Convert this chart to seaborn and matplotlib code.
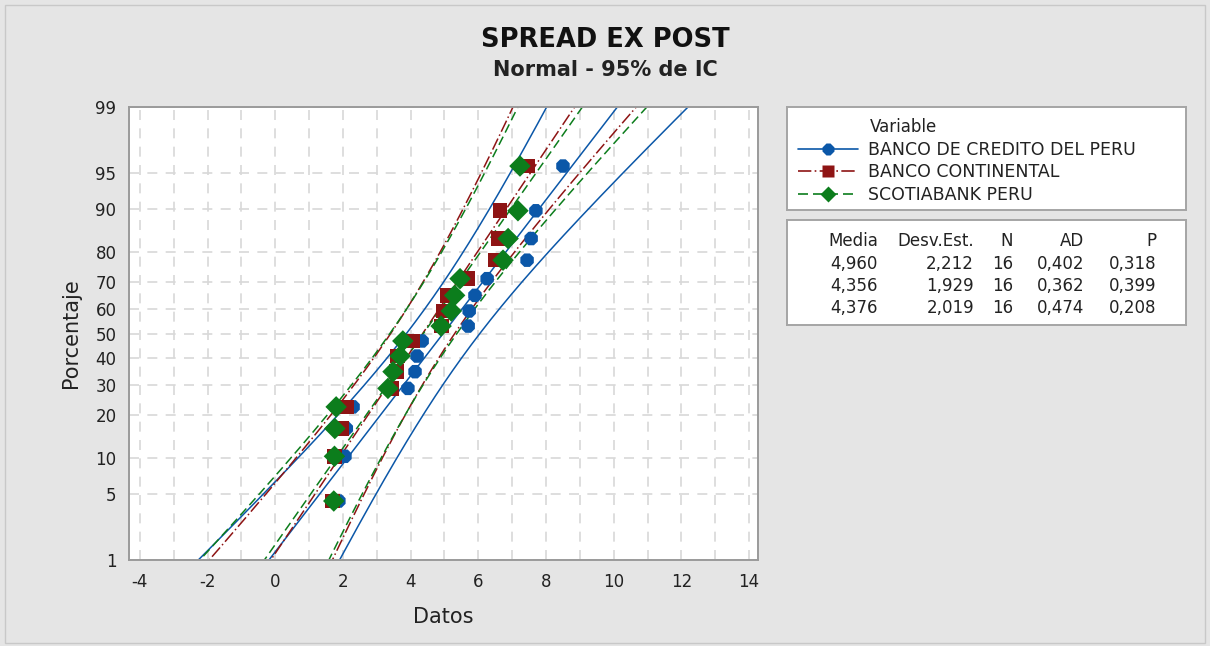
import numpy as np
import pandas as pd
import seaborn as sns
import matplotlib as mpl
from matplotlib import pyplot as plt
from matplotlib.lines import Line2D
from statistics import NormalDist

# data (sorted values, 16 per bank)
bcp = [1.88, 2.06, 2.10, 2.30, 3.92, 4.13, 4.19, 4.34, 5.70, 5.73, 5.90, 6.26, 7.44, 7.56, 7.70, 8.50]
bbva = [1.70, 1.75, 1.95, 2.10, 3.45, 3.58, 3.62, 4.07, 4.92, 4.95, 5.07, 5.70, 6.49, 6.60, 6.64, 7.47]
scotia = [1.73, 1.75, 1.76, 1.80, 3.33, 3.48, 3.69, 3.77, 4.90, 5.20, 5.30, 5.46, 6.73, 6.88, 7.17, 7.23]

series_names = ['BANCO DE CREDITO DEL PERU', 'BANCO CONTINENTAL', 'SCOTIABANK PERU']
media = [4.960, 4.356, 4.376]
desv = [2.212, 1.929, 2.019]
n_obs = [16, 16, 16]
ad_stat = [0.402, 0.362, 0.474]
p_val = [0.318, 0.399, 0.208]

pct_ticks = [1, 5, 10, 20, 30, 40, 50, 60, 70, 80, 90, 95, 99]
x_ticks = [-4, -2, 0, 2, 4, 6, 8, 10, 12, 14]

colors = ['#0b57a8', '#8e1414', '#0c7d1c']
markers = ['8', 's', 'D']
line_styles = ['-', (0, (8, 2, 1, 2)), (0, (6, 3))]

nd = NormalDist()
def probit(p):
    return nd.inv_cdf(p)

# long table for seaborn
rows = []
for name, vals in zip(series_names, [bcp, bbva, scotia]):
    n = len(vals)
    for i, v in enumerate(sorted(vals), start=1):
        rows.append({'Variable': name, 'Datos': v, 'z': probit((i - 0.3) / (n + 0.4))})
df = pd.DataFrame(rows)

sns.set_style('white')
plt.rcParams['font.family'] = ['DejaVu Sans']

fig = plt.figure(figsize=(12.1, 6.46), dpi=100, facecolor='#e5e5e5')
fig.patches.append(mpl.patches.Rectangle((0.004, 0.004), 0.992, 0.988, transform=fig.transFigure,
                                         fill=False, edgecolor='#c8c8c8', lw=1))
ax = fig.add_axes([0.1066, 0.1331, 0.5198, 0.7012])
ax.set_facecolor('white')

# vertical + horizontal dashed grid
for gx in range(-4, 15):
    ax.axvline(gx, color='#d8d8d8', lw=1.2, ls=(0, (6, 5)), zorder=0)
for p in pct_ticks:
    ax.axhline(probit(p / 100), color='#d8d8d8', lw=1.2, ls=(0, (6, 5)), zorder=0)

# fitted lines and 95% confidence bands
zz = np.linspace(-2.6, 2.6, 200)
for k in range(3):
    mu, sd, n = media[k], desv[k], n_obs[k]
    fit = mu + sd * zz
    hw = 1.96 * sd * np.sqrt((1 + zz ** 2 / 2) / n)
    for xs in (fit, fit - hw, fit + hw):
        ax.plot(xs, zz, color=colors[k], lw=1.1, ls=line_styles[k], zorder=2)

for k, name in enumerate(series_names):
    sub = df[df['Variable'] == name]
    sns.scatterplot(data=sub, x='Datos', y='z', ax=ax, marker=markers[k], color=colors[k],
                    s=110 if k != 2 else 120, edgecolor='none', zorder=3 + k, legend=False)

ax.set_xlim(-4.32, 14.26)
ax.set_ylim(probit(0.01), probit(0.99))
ax.set_xticks(x_ticks)
ax.set_xticklabels([str(t) for t in x_ticks])
ax.set_yticks([probit(p / 100) for p in pct_ticks])
ax.set_yticklabels([str(p) for p in pct_ticks])
ax.tick_params(axis='both', direction='out', length=5, width=1, color='#8c8c8c',
               labelsize=12, labelcolor='#222222', pad=4)
for s in ax.spines.values():
    s.set_color('#9a9a9a')
    s.set_linewidth(1.4)
ax.set_xlabel('Datos', fontsize=15, color='#222222', labelpad=12)
ax.set_ylabel('Porcentaje', fontsize=15, color='#222222', labelpad=10)

def fx(px):
    return px / 1210
def fy(py):
    return 1 - py / 646

fig.text(0.5, fy(40), 'SPREAD EX POST', ha='center', va='center', fontsize=18.5,
         fontweight='bold', color='#111111')
fig.text(0.5, fy(70), 'Normal - 95% de IC', ha='center', va='center', fontsize=15,
         fontweight='bold', color='#222222')

# legend box
lax = fig.add_axes([fx(787), fy(210), fx(1186) - fx(787), fy(107) - fy(210)])
lax.set_xticks([]); lax.set_yticks([])
lax.set_facecolor('white')
for s in lax.spines.values():
    s.set_color('#a5a5a5'); s.set_linewidth(1.4)
handles = [Line2D([0], [0], color=colors[k], ls=line_styles[k], lw=1.2, marker=markers[k],
                  markersize=9 if k != 2 else 8, markeredgecolor='none') for k in range(3)]
fig.text(fx(870), fy(127), 'Variable', fontsize=12, va='center', ha='left', color='#222222')
fig.legend(handles, series_names, loc='upper left', bbox_to_anchor=(fx(789), fy(132)),
           frameon=False, fontsize=12.5, handlelength=3.5, handletextpad=0.55,
           labelspacing=0.27, borderpad=0, labelcolor='#222222')

# stats box
sax = fig.add_axes([fx(787), fy(325), fx(1186) - fx(787), fy(220) - fy(325)])
sax.set_xticks([]); sax.set_yticks([])
sax.set_facecolor('white')
for s in sax.spines.values():
    s.set_color('#a5a5a5'); s.set_linewidth(1.4)
col_right = [878, 974, 1013, 1084, 1156]
headers = ['Media', 'Desv.Est.', 'N', 'AD', 'P']
for cx, h in zip(col_right, headers):
    fig.text(fx(cx), fy(241), h, ha='right', va='center', fontsize=12, color='#222222')
for r in range(3):
    vals = [f'{media[r]:.3f}', f'{desv[r]:.3f}', str(n_obs[r]), f'{ad_stat[r]:.3f}', f'{p_val[r]:.3f}']
    for cx, v in zip(col_right, vals):
        fig.text(fx(cx), fy(264 + 22 * r), v.replace('.', ','), ha='right', va='center',
                 fontsize=12, color='#222222')

plt.savefig('out.png', dpi=100, facecolor=fig.get_facecolor())
